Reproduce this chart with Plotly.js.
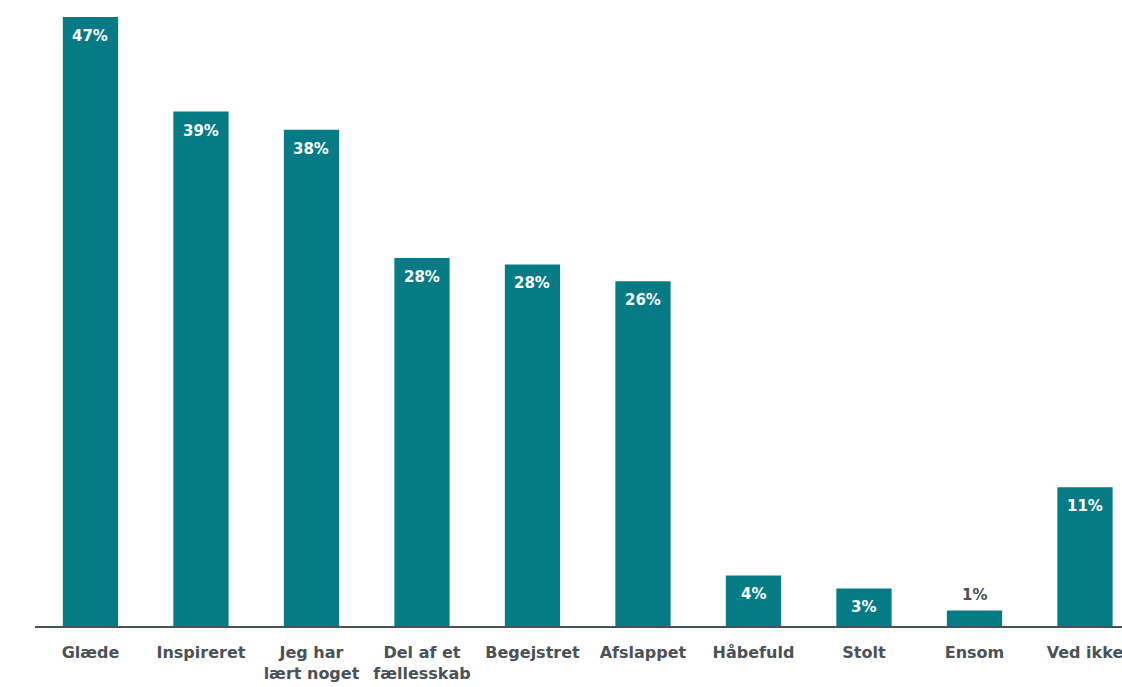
<!DOCTYPE html>
<html>
<head>
<meta charset="utf-8">
<script src="https://cdn.plot.ly/plotly-3.0.1.min.js"></script>
<style>html,body{margin:0;padding:0;background:#fff;}#chart{width:1122px;height:687px;}</style>
</head>
<body>
<div id="chart"></div>
<script>
const categories = ["Glæde", "Inspireret", "Jeg har<br>lært noget", "Del af et<br>fællesskab", "Begejstret", "Afslappet", "Håbefuld", "Stolt", "Ensom", "Ved ikke"];
const values = [47, 39.7, 38.3, 28.4, 27.9, 26.6, 3.9, 2.9, 1.2, 10.7];
const labels = ["47%", "39%", "38%", "28%", "28%", "26%", "4%", "3%", "1%", "11%"];

const barColor = "#057b86";
const textDark = "#4a5157";
const fontFam = "'DejaVu Sans', sans-serif";

const annotations = categories.map((c, i) => {
  const inside = values[i] > 2;
  return {
    x: c, y: values[i], xref: "x", yref: "y",
    text: "<b>" + labels[i] + "</b>",
    showarrow: false,
    yanchor: inside ? "top" : "bottom",
    yshift: inside ? -8 : 4,
    font: {family: fontFam, size: 15, color: inside ? "#ffffff" : textDark}
  };
});

Plotly.newPlot("chart", [{
  type: "bar",
  x: categories,
  y: values,
  marker: {color: barColor},
  width: 0.5,
  hoverinfo: "none"
}], {
  width: 1122, height: 687,
  margin: {l: 35, r: 0, t: 17, b: 61},
  paper_bgcolor: "#ffffff",
  plot_bgcolor: "#ffffff",
  showlegend: false,
  xaxis: {
    type: "category",
    range: [-0.502, 9.335],
    showline: true, linecolor: "#4a5157", linewidth: 2,
    ticks: "", showgrid: false, zeroline: false,
    tickfont: {family: fontFam, size: 16, color: textDark, weight: "bold"},
    ticklabelstandoff: 11
  },
  yaxis: {
    range: [0, 47],
    visible: false, showgrid: false, zeroline: false
  },
  annotations: annotations
}, {displayModeBar: false, staticPlot: true});
</script>
</body>
</html>
